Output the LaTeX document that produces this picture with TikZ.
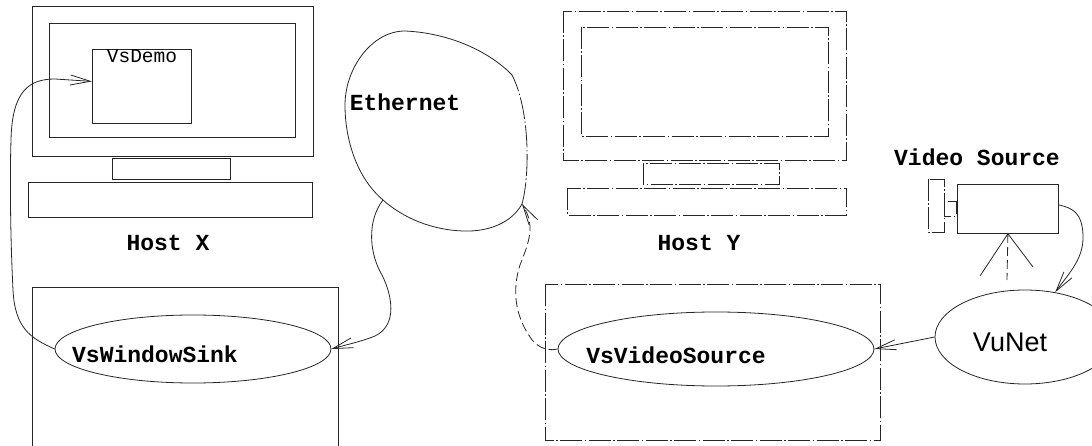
\documentclass[tikz,border=0pt]{standalone}
\usepackage{fontspec}
\setmainfont{Liberation Serif}
\setmonofont{Liberation Mono}
\setsansfont{Liberation Sans}
\usetikzlibrary{shapes.geometric,arrows.meta}

\begin{document}
\begin{tikzpicture}[x=1pt,y=-1pt,
  ln/.style={draw=black!85, line width=0.8pt},
  brk/.style={dash pattern=on 22pt off 2.5pt on 1.5pt off 2.5pt},
  dsh/.style={dash pattern=on 9pt off 4pt},
  arr/.style={ln, -{Straight Barb[length=20pt,width=10pt]}},
  lbl/.style={font=\fontsize{23}{23}\selectfont\ttfamily\bfseries, inner sep=0pt},
  proc/.style={ln, ellipse, inner sep=0pt},
  box/.style={ln, rectangle, inner sep=0pt, anchor=north west},
]
\useasboundingbox (0,0) rectangle (1092,446);

% ---------- Host X ----------
\draw[ln] (32,6) rectangle (313,156);
\draw[ln] (49,23) rectangle (295,137);
\node[box, minimum width=99pt, minimum height=74pt] (demo) at (92,49) {};
\node[font=\fontsize{19.5}{20}\selectfont\ttfamily, inner sep=0pt] (demol) at (142,56) {VsDemo};
\draw[ln] (112,158) rectangle (230,179);
\draw[ln] (28,182) rectangle (312,217);
\node[lbl] (hx) at (168,243) {Host X};
\draw[ln] (32,446) -- (32,287) -- (338,287) -- (338,446);
\node[proc, minimum width=276pt, minimum height=68pt] (ws) at (193,349) {};
\node[lbl] (wsl) at (155,354) {VsWindowSink};

% ---------- Ethernet ----------
\coordinate (eth-w) at (345,105);
\coordinate (eth-n) at (405,31);
\coordinate (eth-ne) at (512,75);
\coordinate (eth-se) at (522,204);
\coordinate (eth-s) at (463,231);
\coordinate (eth-sw) at (383,200);
\draw[ln] (eth-ne) .. controls (490,52) and (450,33) .. (eth-n)
  .. controls (372,31) and (345,68) .. (eth-w)
  .. controls (345,140) and (357,178) .. (eth-sw)
  .. controls (403,218) and (432,230) .. (eth-s)
  .. controls (490,232) and (512,222) .. (eth-se);
\draw[ln, brk] (eth-se) .. controls (530,175) and (530,110) .. (eth-ne);
\node[lbl] (ethl) at (405,102) {Ethernet};

% ---------- Host Y ----------
\begin{scope}[brk]
\draw[ln] (563,11) rectangle (846,160);
\draw[ln] (581,27) rectangle (828,136);
\draw[ln] (643,163) rectangle (779,184);
\draw[ln] (567,188) rectangle (846,215);
\draw[ln] (545,284) rectangle (880,440);
\end{scope}
\node[lbl] (hy) at (699,243) {Host Y};
\node[proc, minimum width=316pt, minimum height=74pt] (vs) at (716,349) {};
\node[lbl] (vvl) at (676,355) {VsVideoSource};

% ---------- Video source and VuNet ----------
\node[lbl] (vsl) at (977,157) {Video Source};
\node[box, minimum width=101pt, minimum height=49pt] (cam) at (957,184) {};
\draw[ln, brk] (928,179) rectangle (944,232);
\draw[ln, brk] (944,201) rectangle (956,216);
\draw[ln] (cam.south) -- (980,276);
\draw[ln] (cam.south) -- (1033,267);
\draw[ln, dsh] (cam.south) -- (1007,280);
\node[proc, minimum width=180pt, minimum height=94pt] (vu) at (1025,337) {};
\node[font=\fontsize{27}{27}\selectfont\sffamily, inner sep=0pt] (vul) at (1010,342) {VuNet};

% ---------- Connectors ----------
\draw[arr] (ws.west) .. controls (30,338) and (15,328) .. (13,290)
  .. controls (10,230) and (10,170) .. (11,140)
  .. controls (12,90) and (30,79) .. (55,79) -- ([yshift=5pt]demo.west);
\draw[arr] (eth-sw) .. controls (366,222) and (370,255) .. (382,275)
  .. controls (392,295) and (398,325) .. (375,336)
  .. controls (360,342) and (345,345) .. (ws.east);
\draw[arr, dsh] (vs.west) .. controls (545,352) and (535,345) .. (530,337)
  .. controls (515,315) and (512,290) .. (520,265)
  .. controls (530,240) and (535,225) .. (eth-se);
\draw[arr] (vu.west) -- (vs.east);
\draw[arr] ([yshift=4pt]cam.east) .. controls (1072,208) and (1082,212) .. (1083,235)
  .. controls (1084,258) and (1070,272) .. (vu.56);
\end{tikzpicture}
\end{document}
